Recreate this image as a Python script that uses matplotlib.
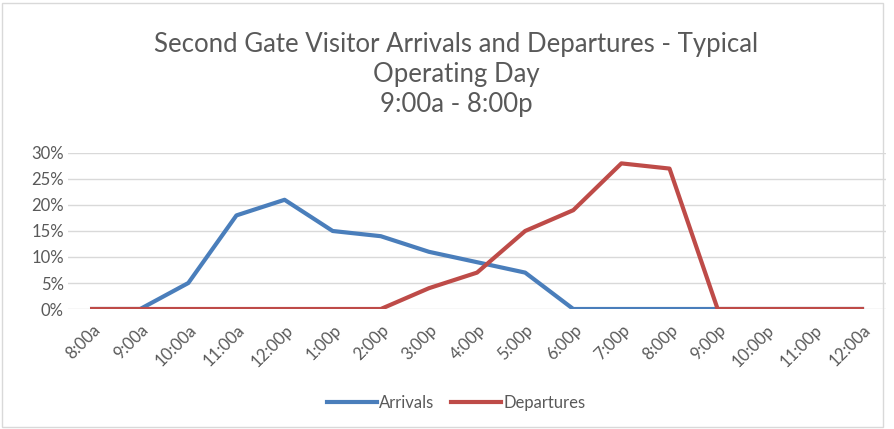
import matplotlib
matplotlib.use("Agg")
import matplotlib.pyplot as plt
from matplotlib.patches import Rectangle
from matplotlib.ticker import PercentFormatter

times = ["8:00a", "9:00a", "10:00a", "11:00a", "12:00p", "1:00p", "2:00p",
         "3:00p", "4:00p", "5:00p", "6:00p", "7:00p", "8:00p", "9:00p",
         "10:00p", "11:00p", "12:00a"]
arrivals = [0, 0, 5, 18, 21, 15, 14, 11, 9, 7, 0, 0, 0, 0, 0, 0, 0]
departures = [0, 0, 0, 0, 0, 0, 0, 4, 7, 15, 19, 28, 27, 0, 0, 0, 0]

plt.rcParams['font.family'] = ['Lato', 'DejaVu Sans']
grey = '#595959'

fig = plt.figure(figsize=(8.95, 4.29), dpi=100)
ax = fig.add_axes([0.076, 0.2797, 0.914, 0.3637])

x = list(range(len(times)))
ax.plot(x, [v / 100 for v in arrivals], color='#4A7EBB', lw=3,
        solid_joinstyle='round', label='Arrivals', zorder=3)
ax.plot(x, [v / 100 for v in departures], color='#BE4B48', lw=3,
        solid_joinstyle='round', label='Departures', zorder=3)

ax.set_xlim(-0.5, len(times) - 0.5)
ax.set_ylim(0, 0.30)
ax.set_yticks([0, 0.05, 0.10, 0.15, 0.20, 0.25, 0.30])
ax.yaxis.set_major_formatter(PercentFormatter(1.0, decimals=0))
ax.set_xticks(x)
ax.set_xticklabels(times, rotation=45, ha='right', rotation_mode='anchor')
ax.tick_params(axis='both', length=0, colors=grey, labelsize=12)
ax.tick_params(axis='x', pad=9)
ax.tick_params(axis='y', pad=3)
ax.grid(axis='y', color='#D9D9D9', lw=1)
ax.set_axisbelow(True)
for s in ax.spines.values():
    s.set_visible(False)

fig.text(0.51, 0.925, "Second Gate Visitor Arrivals and Departures - Typical\nOperating Day\n9:00a - 8:00p",
         ha='center', va='top', fontsize=18.5, color=grey, linespacing=1.24)

leg = fig.legend(loc='center', bbox_to_anchor=(0.51, 0.06), ncol=2, frameon=False,
                 fontsize=12, handlelength=3.0, columnspacing=1.0, handletextpad=0.15)
for t in leg.get_texts():
    t.set_color(grey)

fig.patches.append(Rectangle((0.002, 0.004), 0.985, 0.99, transform=fig.transFigure,
                             fill=False, edgecolor='#D9D9D9', lw=1))

fig.savefig("out.png", dpi=100)
